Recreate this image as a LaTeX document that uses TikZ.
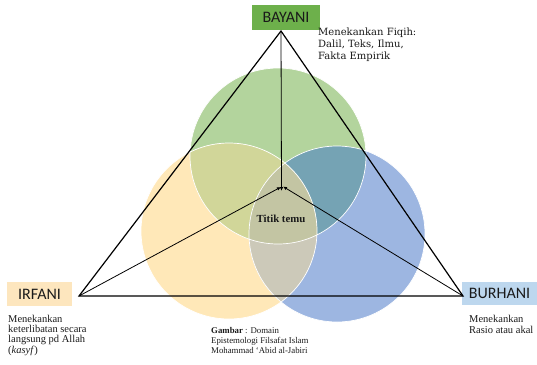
\documentclass[tikz,border=0pt]{standalone}
\usepackage{fontspec}
\setmainfont{Liberation Serif}
\newfontfamily\labelfont{Carlito}
\newfontfamily\slabfont{DejaVu Serif}
\usetikzlibrary{arrows.meta}

% region colours of the three overlapping domains
\definecolor{cG}{HTML}{B3D49D}
\definecolor{cY}{HTML}{FFE8B8}
\definecolor{cB}{HTML}{9DB6E1}
\definecolor{cGY}{HTML}{D1D699}
\definecolor{cGB}{HTML}{75A3B4}
\definecolor{cYB}{HTML}{CCC9B9}
\definecolor{cGYB}{HTML}{C3C5A3}
\definecolor{boxG}{HTML}{6DB04B}
\definecolor{boxY}{HTML}{FDE6BE}
\definecolor{boxB}{HTML}{BDD7EE}
\definecolor{ink}{HTML}{1A1A1A}

\tikzset{
  domainbox/.style={inner sep=0pt, font=\labelfont\fontsize{16}{16}\selectfont, text=ink},
  note/.style={anchor=base west, inner sep=0pt, align=left, text=ink,
    font=\fontsize{10.5}{10.3}\selectfont},
  edge/.style={line width=1.2pt, black},
  spoke/.style={line width=0.8pt, black, -{Latex[length=4pt,width=3.5pt]}},
}

\begin{document}
\begin{tikzpicture}[x=1pt,y=-1pt]
\useasboundingbox (0,0) rectangle (537,364);

% circle centres and radius
\def\R{88}
\coordinate (cg) at (278,156);
\coordinate (cy) at (229,231);
\coordinate (cb) at (337,234);

% plain fills
\fill[cG] (cg) circle (\R);
\fill[cY] (cy) circle (\R);
\fill[cB] (cb) circle (\R);
% pairwise overlaps
\begin{scope}\clip (cg) circle (\R); \fill[cGY] (cy) circle (\R); \end{scope}
\begin{scope}\clip (cg) circle (\R); \fill[cGB] (cb) circle (\R); \end{scope}
\begin{scope}\clip (cy) circle (\R); \fill[cYB] (cb) circle (\R); \end{scope}
% common core
\begin{scope}\clip (cg) circle (\R); \clip (cy) circle (\R); \fill[cGYB] (cb) circle (\R); \end{scope}
% thin white rims
\draw[white, line width=0.7pt] (cg) circle (\R) (cy) circle (\R) (cb) circle (\R);

% corner labels
\node[domainbox, fill=boxG, minimum width=68pt, minimum height=25pt] (bay) at (286,17.5) {BAYANI};
\node[domainbox, fill=boxY, minimum width=65pt, minimum height=24pt] (irf) at (39.5,294) {IRFANI};
\node[domainbox, fill=boxB, minimum width=75pt, minimum height=23pt] (bur) at (499.5,293.5) {BURHANI};

% triangle corners and meeting point
\coordinate (top) at (281,31);
\coordinate (left) at (79,296);
\coordinate (right) at (463,296);
\coordinate (meet) at (281.5,188);

\draw[edge, line join=miter] (top) -- (left) -- (right) -- cycle;
\draw[spoke] (top) -- ([yshift=-3pt]meet);
\draw[spoke] (left) -- ([xshift=-0.5pt,yshift=1pt]meet);
\draw[spoke] (right) -- ([xshift=1.5pt,yshift=1.5pt]meet);

\node[inner sep=0pt, font=\bfseries\fontsize{10.8}{11}\selectfont, text=ink] (meetlbl) at (281,219) {Titik temu};

% descriptions (base anchor sits on the last line)
\node[note, font=\slabfont\fontsize{10}{12}\selectfont] (tbay) at (318,59)
  {Menekankan Fiqih:\\Dalil, Teks, Ilmu,\\Fakta Empirik};
\node[note] (tirf) at (8,353)
  {Menekankan\\keterlibatan secara\\langsung pd Allah\\(\textit{kasyf})};
\node[note, font=\fontsize{10.5}{11}\selectfont] (tbur) at (469,333) {Menekankan\\Rasio atau akal};
\node[note, font=\fontsize{8.8}{10}\selectfont] (caption) at (211,353)
  {\textbf{Gambar} : Domain\\Epistemologi Filsafat Islam\\Mohammad ‘Abid al-Jabiri};
\end{tikzpicture}
\end{document}
